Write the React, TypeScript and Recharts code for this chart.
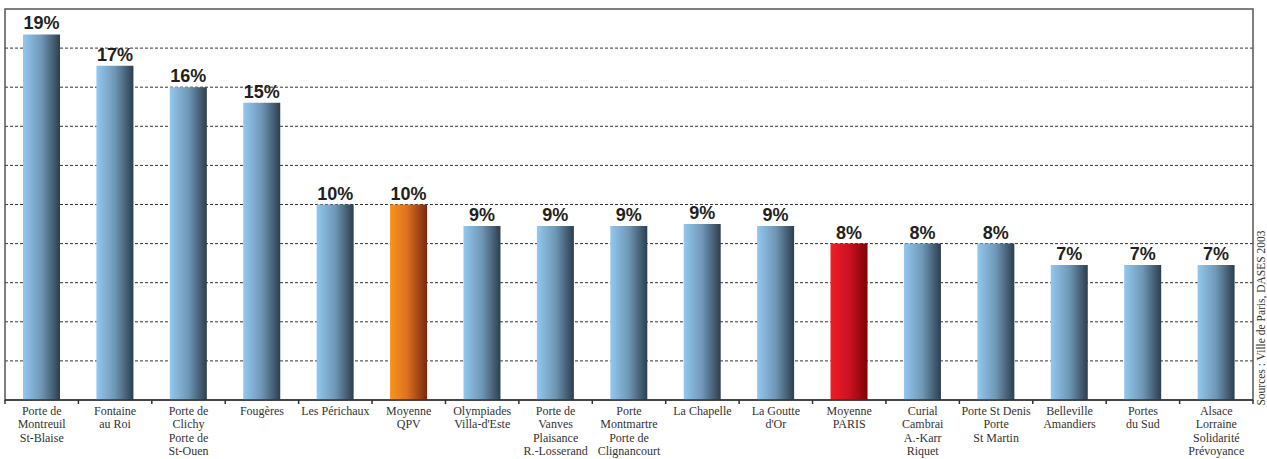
import { Bar, BarChart, CartesianGrid, Cell, LabelList, ReferenceArea, XAxis, YAxis } from 'recharts'

const quartiers = [
  'Porte de\nMontreuil\nSt-Blaise',
  'Fontaine\nau Roi',
  'Porte de\nClichy\nPorte de\nSt-Ouen',
  'Fougères',
  'Les Périchaux',
  'Moyenne\nQPV',
  'Olympiades\nVilla-d\'Este',
  'Porte de\nVanves\nPlaisance\nR.-Losserand',
  'Porte\nMontmartre\nPorte de\nClignancourt',
  'La Chapelle',
  'La Goutte\nd\'Or',
  'Moyenne\nPARIS',
  'Curial\nCambrai\nA.-Karr\nRiquet',
  'Porte St Denis\nPorte\nSt Martin',
  'Belleville\nAmandiers',
  'Portes\ndu Sud',
  'Alsace\nLorraine\nSolidarité\nPrévoyance',
]

const taux = [18.7, 17.1, 16, 15.2, 10, 10, 8.9, 8.9, 8.9, 9.0, 8.9, 8, 8, 8, 6.9, 6.9, 6.9]

const gridTicks = [2, 4, 6, 8, 10, 12, 14, 16, 18]

const data = quartiers.map((name, i) => ({ name, value: taux[i] }))

const WIDTH = 1267
const HEIGHT = 459
const AXIS_H = 59
const margin = { top: 9, right: 14, bottom: 0, left: 5 }
const band = (WIDTH - margin.left - margin.right) / quartiers.length

const serif = "'Liberation Serif', 'DejaVu Serif', serif"

// averages get their own colour, everything else is blue
function fillFor(name: string) {
  if (name === 'Moyenne\nQPV') return 'url(#gradQpv)'
  if (name === 'Moyenne\nPARIS') return 'url(#gradParis)'
  return 'url(#gradBlue)'
}

function QuartierTick(props: any) {
  const { x, y, payload, index } = props
  const lines = String(payload.value).split('\n')
  const last = index === quartiers.length - 1
  return (
    <g>
      <line x1={x - band / 2} x2={x - band / 2} y1={y} y2={y + 4} stroke="#333" strokeWidth={1.5} />
      {last && <line x1={x + band / 2} x2={x + band / 2} y1={y} y2={y + 4} stroke="#333" strokeWidth={1.5} />}
      <text x={x} y={y + 14.5} textAnchor="middle" fontFamily={serif} fontSize={12} fill="#333">
        {lines.map((l, i) => (
          <tspan key={i} x={x} dy={i === 0 ? 0 : 13.5}>
            {l}
          </tspan>
        ))}
      </text>
    </g>
  )
}

export default function App() {
  return (
    <div style={{ position: 'absolute', left: 0, top: 0, width: WIDTH, height: HEIGHT, background: '#fff' }}>
      <BarChart width={WIDTH} height={HEIGHT} data={data} margin={margin} barSize={37}>
        <defs>
          <linearGradient id="gradBlue" x1="0" y1="0" x2="1" y2="0">
            <stop offset="0%" stopColor="#93c8ef" />
            <stop offset="50%" stopColor="#6f97b6" />
            <stop offset="100%" stopColor="#2c3e4e" />
          </linearGradient>
          <linearGradient id="gradQpv" x1="0" y1="0" x2="1" y2="0">
            <stop offset="0%" stopColor="#f7941d" />
            <stop offset="45%" stopColor="#dd7222" />
            <stop offset="100%" stopColor="#7a2810" />
          </linearGradient>
          <linearGradient id="gradParis" x1="0" y1="0" x2="1" y2="0">
            <stop offset="0%" stopColor="#ef1d27" />
            <stop offset="50%" stopColor="#cc1222" />
            <stop offset="100%" stopColor="#7c0306" />
          </linearGradient>
        </defs>
        <CartesianGrid
          vertical={false}
          horizontalValues={gridTicks}
          stroke="#333"
          strokeDasharray="3 2"
        />
        <ReferenceArea y1={0} y2={20} fill="none" stroke="#555" strokeWidth={1.5} />
        <XAxis
          dataKey="name"
          interval={0}
          height={AXIS_H}
          tickLine={false}
          tickSize={0}
          tickMargin={0}
          axisLine={{ stroke: '#333', strokeWidth: 1.5 }}
          tick={<QuartierTick />}
        />
        <YAxis hide domain={[0, 20]} ticks={gridTicks} />
        <Bar dataKey="value" isAnimationActive={false}>
          {data.map((d) => (
            <Cell key={d.name} fill={fillFor(d.name)} />
          ))}
          <LabelList
            dataKey="value"
            position="top"
            offset={5}
            formatter={(v: any) => `${Math.round(Number(v))}%`}
            style={{
              fontFamily: "'Liberation Sans', Arial, sans-serif",
              fontWeight: 'bold',
              fontSize: 18,
              fill: '#231f20',
            }}
          />
        </Bar>
        <text
          x={1262}
          y={318}
          transform="rotate(-90 1262 318)"
          textAnchor="middle"
          dominantBaseline="middle"
          fontFamily={serif}
          fontSize={11.5}
          fill="#333"
        >
          Sources : Ville de Paris, DASES 2003
        </text>
      </BarChart>
    </div>
  )
}
